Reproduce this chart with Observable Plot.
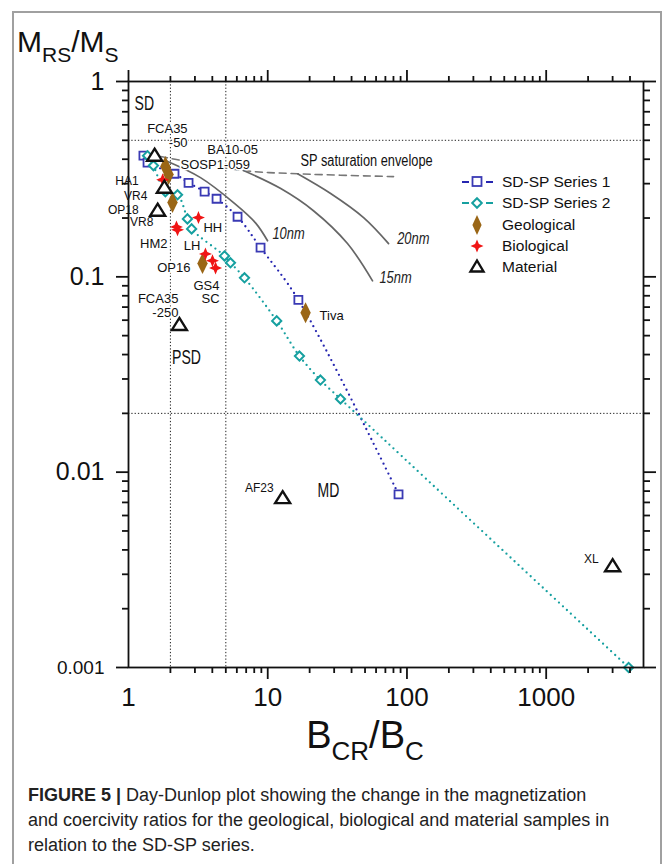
<!DOCTYPE html>
<html><head><meta charset="utf-8">
<script src="https://cdn.jsdelivr.net/npm/d3@7"></script>
<script src="https://cdn.jsdelivr.net/npm/@observablehq/plot@0.6"></script>
<style>
html,body{margin:0;padding:0;background:#fff;width:663px;height:864px;overflow:hidden;font-family:"Liberation Sans",Arial,sans-serif;}
#border{position:absolute;left:12px;top:11px;width:650px;height:900px;border:2px solid #a0a0a0;box-sizing:border-box;}
#chart{position:absolute;left:0;top:0;}
#legend{position:absolute;left:0;top:0;}
.lg{position:absolute;left:462px;height:20px;display:flex;align-items:center;font-size:15.5px;color:#111;white-space:nowrap;}
.lg svg{width:40px;height:20px;flex:none;}
#caption{position:absolute;left:28px;top:783px;width:630px;font-size:18px;line-height:25px;color:#222;white-space:nowrap;}
#caption b{font-weight:bold;}
</style></head>
<body>
<div id="border"></div>
<div id="chart"></div>
<div id="legend"></div>
<div id="caption"><b>FIGURE 5 |</b> Day-Dunlop plot showing the change in the magnetization<br>and coercivity ratios for the geological, biological and material samples in<br>relation to the SD-SP series.</div>
<script>
// ---------- data ----------
const series1X = [1.28, 1.37, 2.14, 2.70, 3.52, 4.29, 6.07, 8.88, 16.6, 87.0];
const series1Y = [0.417, 0.384, 0.337, 0.303, 0.273, 0.251, 0.203, 0.141, 0.0762, 0.0077];
const series2X = [1.37, 1.51, 1.84, 2.25, 2.65, 2.84, 4.89, 5.40, 6.81, 11.6, 16.9, 23.9, 33.3, 3910];
const series2Y = [0.417, 0.371, 0.273, 0.263, 0.198, 0.176, 0.128, 0.118, 0.0988, 0.0595, 0.0393, 0.0296, 0.0237, 0.001];
const geoNames = ["BA10-05", "SOSP1-059", "", "OP16", "Tiva"];
const geoX = [1.84, 1.94, 2.07, 3.40, 18.7];
const geoY = [0.367, 0.334, 0.240, 0.117, 0.0654];
const bioNames = ["HA1", "HH", "VR8", "HM2", "LH", "GS4", "SC"];
const bioX = [1.76, 3.18, 2.21, 2.25, 3.57, 4.01, 4.22];
const bioY = [0.314, 0.201, 0.180, 0.174, 0.131, 0.121, 0.111];
const matNames = ["FCA35\n-50", "VR4", "OP18", "FCA35\n-250", "AF23", "XL"];
const matX = [1.54, 1.81, 1.62, 2.32, 12.8, 3000];
const matY = [0.417, 0.286, 0.218, 0.0567, 0.00736, 0.0033];
// SP saturation envelope and grain-size curves
const envX = [1.70, 6.70, 16.4, 80.1];
const envY = [0.413, 0.350, 0.337, 0.326];
const nm10X = [1.84, 3.29, 5.68, 8.17, 9.97];
const nm10Y = [0.394, 0.322, 0.240, 0.189, 0.153];
const nm15X = [6.70, 12.4, 21.3, 37.4, 56.6];
const nm15Y = [0.350, 0.283, 0.218, 0.148, 0.0954];
const nm20X = [16.4, 28.3, 48.8, 73.8];
const nm20Y = [0.337, 0.267, 0.201, 0.148];
// domain boundaries (Day plot)
const bcrBoundaries = [2, 5];
const mrsBoundaries = [0.5, 0.02];
// region / curve annotations
const regionText = ["SD", "PSD", "MD"];
const regionX = [1.30, 2.61, 27.3];
const regionY = [0.771, 0.0384, 0.0080];
const curveText = ["10nm", "15nm", "20nm"];
const curveTextX = [14.1, 82.8, 111];
const curveTextY = [0.166, 0.0989, 0.157];
const envText = ["SP saturation envelope"];
const envTextX = [51.3];
const envTextY = [0.394];
// ticks
const xLabelTicks = [1, 10, 100, 1000];
const yBigTicks = [1, 0.1, 0.01];
const ySmallTicks = [0.5, 0.05, 0.005, 0.001];
const legendNames = ["SD-SP Series 1", "SD-SP Series 2", "Geological", "Biological", "Material"];

// ---------- helpers ----------
const zip = (xs, ys, names) => xs.map((x, i) => ({x, y: ys[i], name: names ? names[i] : ""}));
const s1 = zip(series1X, series1Y), s2 = zip(series2X, series2Y);
const geo = zip(geoX, geoY, geoNames), bio = zip(bioX, bioY, bioNames), mat = zip(matX, matY, matNames);

const sym = (pts) => ({draw(ctx, size) {
  const k = Math.sqrt(size / Math.PI) / 5;
  ctx.moveTo(pts[0][0] * k, pts[0][1] * k);
  for (let i = 1; i < pts.length; i++) ctx.lineTo(pts[i][0] * k, pts[i][1] * k);
  ctx.closePath();
}});
const SQUARE = [[-4, -4], [4, -4], [4, 4], [-4, 4]];
const DIAM = [[0, -4.6], [4.6, 0], [0, 4.6], [-4.6, 0]];
const TALL = [[0, -10.5], [5.2, 0], [0, 10.5], [-5.2, 0]];
const STAR = [[0, -6.5], [1.9, -1.9], [6.5, 0], [1.9, 1.9], [0, 6.5], [-1.9, 1.9], [-6.5, 0], [-1.9, -1.9]];
const TRI = [[0, -7], [7.5, 5], [-7.5, 5]];

const C1 = "#3a3ab4", C1L = "#2626b0", C2 = "#16a0a0", CG = "#9a6616", CB = "#f01515";

const minorX = [], minorY = [];
for (let e = 0; e <= 3; e++) for (let m = 2; m <= 9; m++) { const v = m * 10 ** e; if (v < 5000) minorX.push(v); }
for (let e = -3; e <= -1; e++) for (let m = 2; m <= 9; m++) minorY.push(+(m * 10 ** e).toPrecision(3));

const offsets = {
  "FCA35\n-50": [33, -20, "end", 13], "VR4": [-17, 8, "end", 12], "OP18": [-19, -1, "end", 12],
  "FCA35\n-250": [-1, -19, "end", 13], "AF23": [-9, -10, "end", 12], "XL": [-14, -7, "end", 12],
  "HA1": [-24, 1, "end", 12], "HH": [5, 10, "start", 13], "VR8": [-23, -5, "end", 12],
  "HM2": [-10, 14, "end", 13], "LH": [-5, -8, "end", 13], "GS4": [-6, 25, "middle", 13],
  "SC": [-5, 31, "middle", 13], "BA10-05": [42, -17, "start", 13], "SOSP1-059": [12, -10, "start", 13],
  "OP16": [-12, 4, "end", 13], "Tiva": [14, 3, "start", 13]
};
const labelled = [...mat, ...bio, ...geo].filter(d => d.name);
const labelMarks = labelled.map(d => {
  const [dx, dy, ta, fs] = offsets[d.name];
  return Plot.text([d], {x: "x", y: "y", text: "name", dx, dy, textAnchor: ta, fontSize: fs,
    lineHeight: 1.08, fill: "#111", stroke: "white", strokeWidth: 3});
});

const axS = {stroke: "#111", strokeWidth: 1.8, label: null, tickFormat: () => ""};

const plot = Plot.plot({
  width: 663, height: 770,
  marginLeft: 128, marginRight: 20, marginTop: 81, marginBottom: 103,
  style: {fontFamily: "'Liberation Sans',Arial,sans-serif", color: "#111", background: "transparent", overflow: "visible"},
  x: {type: "log", domain: [1, 5000]},
  y: {type: "log", domain: [0.001, 1]},
  marks: [
    Plot.ruleX(bcrBoundaries, {stroke: "#222", strokeWidth: 1, strokeDasharray: "1.3 2"}),
    Plot.ruleY(mrsBoundaries, {stroke: "#222", strokeWidth: 1, strokeDasharray: "1.3 2"}),
    Plot.line(zip(envX, envY), {x: "x", y: "y", stroke: "#777", strokeWidth: 1.6, strokeDasharray: "7 5", curve: "catmull-rom"}),
    Plot.line(zip(nm10X, nm10Y), {x: "x", y: "y", stroke: "#666", strokeWidth: 1.7, curve: "catmull-rom"}),
    Plot.line(zip(nm15X, nm15Y), {x: "x", y: "y", stroke: "#666", strokeWidth: 1.7, curve: "catmull-rom"}),
    Plot.line(zip(nm20X, nm20Y), {x: "x", y: "y", stroke: "#666", strokeWidth: 1.7, curve: "catmull-rom"}),
    Plot.text(zip(regionX, regionY, regionText), {x: "x", y: "y", text: "name", fontSize: 19.5, fill: "#111", stroke: "white", strokeWidth: 4}),
    Plot.text(zip(envTextX, envTextY, envText), {x: "x", y: "y", text: "name", fontSize: 16, fill: "#111"}),
    Plot.text(zip(curveTextX, curveTextY, curveText), {x: "x", y: "y", text: "name", fontSize: 16.5, fontStyle: "italic", fill: "#222"}),
    ...labelMarks,
    Plot.line(s1, {x: "x", y: "y", stroke: C1L, strokeWidth: 2.3, strokeDasharray: "0 5.5", strokeLinecap: "round", curve: "catmull-rom"}),
    Plot.line(s2, {x: "x", y: "y", stroke: C2, strokeWidth: 2.3, strokeDasharray: "0 5.5", strokeLinecap: "round", curve: "catmull-rom"}),
    Plot.dot(s1, {x: "x", y: "y", r: 5, symbol: sym(SQUARE), fill: "white", stroke: C1, strokeWidth: 1.8}),
    Plot.dot(s2, {x: "x", y: "y", r: 5, symbol: sym(DIAM), fill: "white", stroke: C2, strokeWidth: 2}),
    Plot.dot(geo, {x: "x", y: "y", r: 5, symbol: sym(TALL), fill: CG, stroke: "none"}),
    Plot.dot(bio, {x: "x", y: "y", r: 5, symbol: sym(STAR), fill: CB, stroke: "none"}),
    Plot.dot(mat, {x: "x", y: "y", r: 5, symbol: sym(TRI), fill: "white", stroke: "#111", strokeWidth: 2.4, strokeLinejoin: "miter"}),
    Plot.frame({stroke: "#111", strokeWidth: 1.8}),
    // axes: minor ticks
    Plot.axisX({...axS, anchor: "bottom", ticks: minorX, tickSize: 6}),
    Plot.axisX({...axS, anchor: "top", ticks: minorX, tickSize: 6}),
    Plot.axisY({...axS, anchor: "left", ticks: minorY, tickSize: 6}),
    Plot.axisY({...axS, anchor: "right", ticks: minorY, tickSize: 6}),
    // major ticks
    Plot.axisX({...axS, anchor: "bottom", ticks: xLabelTicks.slice(1), tickSize: 12}),
    Plot.axisX({...axS, anchor: "top", ticks: xLabelTicks, tickSize: 12}),
    Plot.axisY({...axS, anchor: "left", ticks: [...yBigTicks, 0.001], tickSize: 12}),
    Plot.axisY({...axS, anchor: "right", ticks: [...yBigTicks, 0.001], tickSize: 12}),
    // labels
    Plot.axisX({anchor: "bottom", ticks: xLabelTicks, tickSize: 0, tickPadding: 20, fontSize: 26, tickFormat: d => String(d), label: null, fill: "#111"}),
    Plot.axisY({anchor: "left", ticks: yBigTicks, tickSize: 0, tickPadding: 24, fontSize: 25, tickFormat: d => String(d), label: null, fill: "#111"}),
    Plot.axisY({anchor: "left", ticks: ySmallTicks, tickSize: 0, tickPadding: 24, fontSize: 19, tickFormat: d => String(d), label: null, fill: "#111"})
  ]
});
document.getElementById("chart").appendChild(plot);

const svg = d3.select(plot);
// condensed look for region / curve annotations
const squeeze = new Map([...regionText.map(t => [t, 0.72]), ...curveText.map(t => [t, 0.78]), ...envText.map(t => [t, 0.8])]);
svg.selectAll("text").each(function () {
  const f = squeeze.get(this.textContent);
  if (!f) return;
  const w = this.getComputedTextLength();
  this.setAttribute("textLength", (w * f).toFixed(1));
  this.setAttribute("lengthAdjust", "spacingAndGlyphs");
});

// axis titles with subscripts
const yt = svg.append("text").attr("x", 17).attr("y", 52).attr("text-anchor", "start").attr("fill", "#111").attr("font-size", 30)
  .attr("font-family", "'Liberation Sans',Arial,sans-serif");
yt.append("tspan").text("M");
yt.append("tspan").attr("font-size", 21).attr("dy", 10).text("RS");
yt.append("tspan").attr("dy", -10).text("/M");
yt.append("tspan").attr("font-size", 21).attr("dy", 10).text("S");
const xt = svg.append("text").attr("x", 365).attr("y", 748).attr("text-anchor", "middle").attr("fill", "#111")
  .attr("font-size", 38).attr("font-family", "'Liberation Sans',Arial,sans-serif");
xt.append("tspan").text("B");
xt.append("tspan").attr("font-size", 26).attr("dy", 12).text("CR");
xt.append("tspan").attr("dy", -12).text("/B");
xt.append("tspan").attr("font-size", 26).attr("dy", 12).text("C");

// legend
const legendSym = [
  `<line x1="0" y1="10" x2="7" y2="10" stroke="${C1L}" stroke-width="2"/><line x1="24" y1="10" x2="31" y2="10" stroke="${C1L}" stroke-width="2"/><rect x="10.5" y="5" width="9" height="9" fill="white" stroke="${C1}" stroke-width="1.8"/>`,
  `<line x1="0" y1="10" x2="7" y2="10" stroke="${C2}" stroke-width="2"/><line x1="24" y1="10" x2="31" y2="10" stroke="${C2}" stroke-width="2"/><path d="M15,5.2L19.8,10L15,14.8L10.2,10Z" fill="white" stroke="${C2}" stroke-width="2"/>`,
  `<path d="M15,0L19.6,10L15,20L10.4,10Z" fill="${CG}"/>`,
  `<path d="M15,3.5L16.9,8.1L21.5,10L16.9,11.9L15,16.5L13.1,11.9L8.5,10L13.1,8.1Z" fill="${CB}"/>`,
  `<path d="M15,3.5L21.5,14.5L8.5,14.5Z" fill="white" stroke="#111" stroke-width="2.4"/>`
];
const lg = document.getElementById("legend");
legendNames.forEach((n, i) => {
  const d = document.createElement("div");
  d.className = "lg";
  d.style.top = (172 + i * 21.3) + "px";
  d.innerHTML = `<svg viewBox="0 0 40 20">${legendSym[i]}</svg><span>${n}</span>`;
  lg.appendChild(d);
});
</script>
</body></html>
